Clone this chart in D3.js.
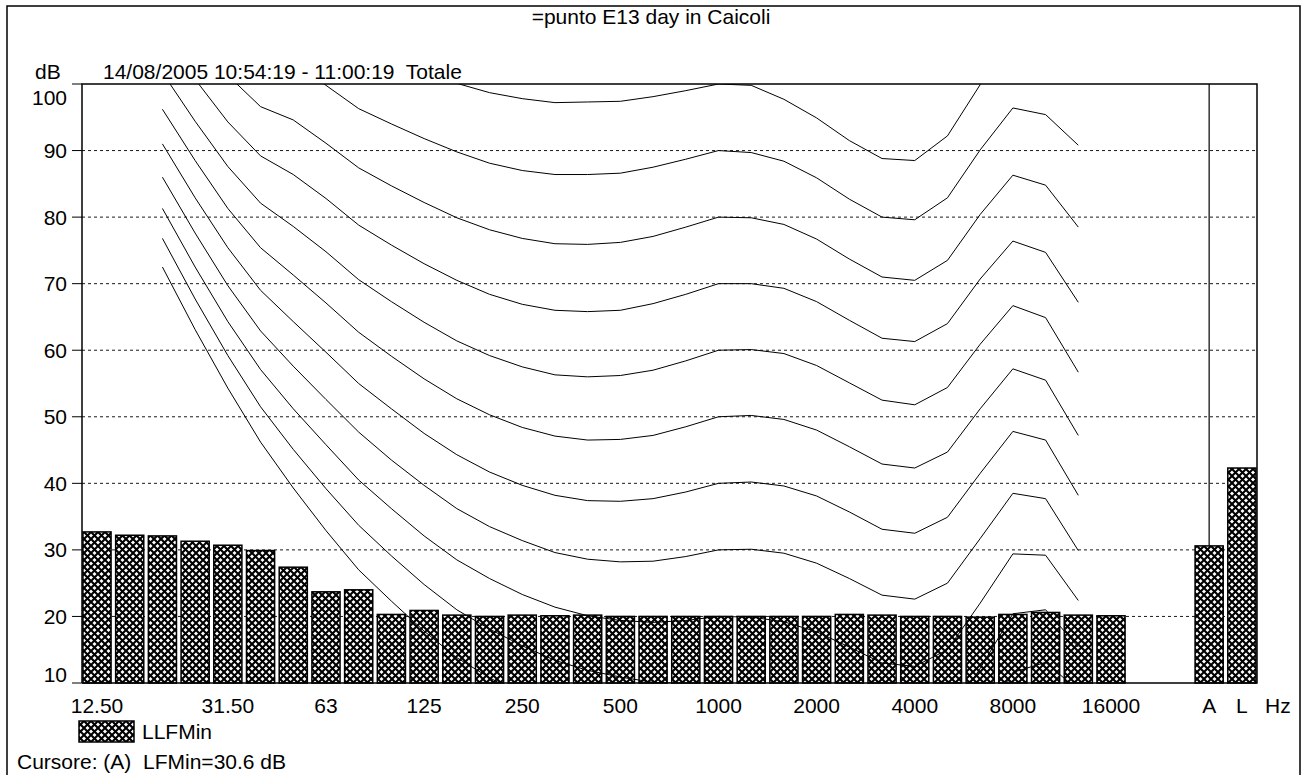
<!DOCTYPE html>
<html>
<head>
<meta charset="utf-8">
<script src="https://cdn.jsdelivr.net/npm/d3@7"></script>
<style>
  body { margin: 0; background: #fff; }
  svg { display: block; font-family: "Liberation Sans", Arial, sans-serif; }
  text { white-space: pre; fill: #000; }
</style>
</head>
<body>
<div id="chart"></div>
<script>
// third-octave bands on the x axis
const bands = ["12.5","16","20","25","31.5","40","50","63","80","100","125","160","200","250","315","400","500","630","800","1000","1250","1600","2000","2500","3150","4000","5000","6300","8000","10000","12500","16000"];
// LLFMin per band (dB)
const llfMin = [32.7,32.2,32.1,31.3,30.7,29.9,27.4,23.7,24.0,20.3,20.9,20.2,20.0,20.2,20.1,20.2,20.0,20.0,20.0,20.0,20.0,20.0,20.0,20.3,20.2,20.0,20.0,19.9,20.3,20.6,20.2,20.1];
// overall values
const totals = ["A","L"];
const totalValues = [30.6, 42.3];
// x tick labels shown under some bands
const xTickBands = ["12.5","31.5","63","125","250","500","1000","2000","4000","8000","16000"];
const xTickText = ["12.50","31.50","63","125","250","500","1000","2000","4000","8000","16000"];
const yTicks = [10,20,30,40,50,60,70,80,90,100];

// isophon curves, 20 Hz .. 12500 Hz
const curveBands = bands.slice(2, 31);
const phon0   = [72.5,63.1,54.3,46.2,39.3,32.9,27.0,22.3,17.8,13.8,10.8,8.1,5.7,3.9,2.5,1.3,0.5,0,-0.7,-1.9,-3.5,-5.7,-8.1,-8.3,-5.4,2.5,11.6,13.1,8.9];
const phon10  = [76.8,67.7,59.2,51.5,45.1,39.2,33.7,29.1,24.8,21.0,18.1,15.6,13.4,11.9,10.9,10.1,9.9,10,9.7,8.7,7.2,5.0,2.6,2.2,4.8,12.2,20.4,21.0,15.4];
const phon20  = [81.3,72.5,64.3,57.1,51.2,45.8,40.5,36.2,32.1,28.5,25.7,23.3,21.4,20.1,19.4,19.1,19.4,20,19.9,19.2,17.7,15.4,13.0,12.5,15.0,22.0,29.4,29.2,22.4];
const phon30  = [86.0,77.6,69.7,62.9,57.6,52.6,47.7,43.5,39.7,36.2,33.5,31.4,29.6,28.6,28.2,28.3,29.0,30,30.1,29.5,28.0,25.7,23.2,22.6,25.0,31.7,38.5,37.7,29.9];
const phon40  = [91.0,82.9,75.4,69.0,64.3,59.7,55.0,51.2,47.5,44.3,41.7,39.7,38.2,37.4,37.3,37.7,38.7,40,40.2,39.6,38.1,35.7,33.1,32.5,34.9,41.5,47.8,46.5,38.2];
const phon50  = [96.2,88.5,81.3,75.4,71.3,67.1,62.7,59.1,55.7,52.7,50.3,48.4,47.1,46.5,46.6,47.2,48.5,50,50.2,49.6,48.0,45.5,42.9,42.3,44.7,51.2,57.2,55.5,47.2];
const phon60  = [101.7,94.4,87.6,82.1,78.6,74.8,70.6,67.3,64.2,61.4,59.2,57.5,56.3,56.0,56.2,57.0,58.4,60,60.1,59.5,57.7,55.1,52.5,51.8,54.4,60.9,66.7,64.9,56.7];
const phon70  = [107.6,100.7,94.3,89.2,86.4,82.8,78.8,75.8,73.0,70.5,68.4,66.9,66.0,65.8,66.0,67.0,68.4,70,70.0,69.3,67.3,64.5,61.8,61.3,64.0,70.7,76.4,74.7,67.2];
const phon80  = [113.7,107.3,101.3,96.6,94.6,91.1,87.4,84.7,82.2,79.9,78.1,76.8,76.0,75.9,76.2,77.1,78.5,80,79.9,78.9,76.7,73.7,71.0,70.5,73.5,80.4,86.3,84.8,78.5];
const phon90  = [120.3,114.4,108.7,104.4,103.2,99.8,96.3,94.0,91.8,89.8,88.1,87.0,86.4,86.4,86.6,87.5,88.7,90,89.7,88.4,85.9,82.7,80.0,79.6,82.9,90.1,96.4,95.4,90.8];
const phon100 = [127.2,121.9,116.6,112.6,112.3,108.9,105.6,103.6,101.8,100.1,98.7,97.8,97.2,97.3,97.4,98.1,99.0,100,99.8,97.7,94.9,91.5,88.8,88.5,92.2,99.9,106.6,106.3,104.7];
const isophons = [phon0, phon10, phon20, phon30, phon40, phon50, phon60, phon70, phon80, phon90, phon100];

const W = 1306, H = 775;
const plot = {left: 82, top: 84, right: 1257, bottom: 683};

const svg = d3.select("#chart").append("svg")
    .attr("width", W)
    .attr("height", H);

svg.append("rect").attr("width", W).attr("height", H).attr("fill", "#fff");

// crosshatch fill for the bars
const defs = svg.append("defs");
const pat = defs.append("pattern")
    .attr("id", "hatch")
    .attr("patternUnits", "userSpaceOnUse")
    .attr("width", 7).attr("height", 7);
pat.append("rect").attr("width", 7).attr("height", 7).attr("fill", "#fff");
pat.append("path")
    .attr("d", "M0,0L7,7M7,0L0,7")
    .attr("stroke", "#000")
    .attr("stroke-width", 2.1);

defs.append("clipPath").attr("id", "plotclip")
  .append("rect")
    .attr("x", plot.left).attr("y", plot.top)
    .attr("width", plot.right - plot.left)
    .attr("height", plot.bottom - plot.top);

// scales
const slots = bands.concat(["gap1", "gap2"], totals);
const x = d3.scaleBand()
    .domain(slots)
    .range([80.65, 80.65 + slots.length * 32.71])
    .paddingInner(0.14)
    .paddingOuter(0.07);
const xc = d => x(d) + x.bandwidth() / 2;

const y = d3.scaleLinear()
    .domain([10, 100])
    .range([plot.bottom, plot.top]);

// outer frame
svg.append("path")
    .attr("d", `M7,${H}V6H1300V${H}`)
    .attr("fill", "none")
    .attr("stroke", "#000")
    .attr("stroke-width", 1.5);

// title
svg.append("text")
    .attr("x", 651).attr("y", 24)
    .attr("text-anchor", "middle")
    .style("font-size", "21px")
    .text("=punto E13 day in Caicoli");

svg.append("text")
    .attr("x", 35).attr("y", 79)
    .style("font-size", "21px")
    .text("dB");

svg.append("text")
    .attr("x", 103).attr("y", 79)
    .style("font-size", "21px")
    .text("14/08/2005 10:54:19 - 11:00:19  Totale");

// dashed gridlines
svg.append("g")
  .selectAll("line")
  .data(yTicks.filter(v => v > 10 && v < 100))
  .join("line")
    .attr("x1", plot.left).attr("x2", plot.right)
    .attr("y1", d => y(d)).attr("y2", d => y(d))
    .attr("stroke", "#000")
    .attr("stroke-width", 0.9)
    .attr("stroke-dasharray", "3,3");

// cursor line on the A bar
svg.append("line")
    .attr("x1", xc("A")).attr("x2", xc("A"))
    .attr("y1", plot.top).attr("y2", plot.bottom)
    .attr("stroke", "#000")
    .attr("stroke-width", 1.2);

// bars
const barData = bands.map((b, i) => ({key: b, v: llfMin[i]}))
    .concat(totals.map((t, i) => ({key: t, v: totalValues[i]})));

svg.append("g")
  .selectAll("rect")
  .data(barData)
  .join("rect")
    .attr("x", d => x(d.key))
    .attr("y", d => y(d.v))
    .attr("width", x.bandwidth())
    .attr("height", d => y(10) - y(d.v))
    .attr("fill", "url(#hatch)")
    .attr("stroke", "#000")
    .attr("stroke-width", 1.5);

// isophon curves
const line = d3.line()
    .x((d, i) => xc(curveBands[i]))
    .y(d => y(d));

svg.append("g")
    .attr("clip-path", "url(#plotclip)")
  .selectAll("path")
  .data(isophons)
  .join("path")
    .attr("d", line)
    .attr("fill", "none")
    .attr("stroke", "#000")
    .attr("stroke-width", 1);

// axis frame lines
svg.append("path")
    .attr("d", `M${plot.left},${plot.bottom}V${plot.top}H${plot.right}V${plot.bottom}H${plot.left}`)
    .attr("fill", "none")
    .attr("stroke", "#000")
    .attr("stroke-width", 1.5);

// y ticks and labels
const yAxis = svg.append("g");
yAxis.selectAll("line")
  .data(yTicks)
  .join("line")
    .attr("x1", plot.left - 10).attr("x2", plot.left)
    .attr("y1", d => y(d)).attr("y2", d => y(d))
    .attr("stroke", "#000");
yAxis.selectAll("text")
  .data(yTicks)
  .join("text")
    .attr("x", 67)
    .attr("y", d => d === 100 ? y(d) + 21 : d === 10 ? y(d) - 1 : y(d) + 7.5)
    .attr("text-anchor", "end")
    .style("font-size", "21px")
    .text(d => d);

// x labels
const xLabels = xTickBands.map((b, i) => ({x: xc(b), t: xTickText[i]}))
    .concat(totals.map(t => ({x: xc(t), t: t})))
    .concat([{x: xc("L") + 36, t: "Hz"}]);

svg.append("g")
  .selectAll("text")
  .data(xLabels)
  .join("text")
    .attr("x", d => d.x)
    .attr("y", 713)
    .attr("text-anchor", "middle")
    .style("font-size", "21px")
    .text(d => d.t);

// legend
svg.append("rect")
    .attr("x", 79).attr("y", 721)
    .attr("width", 55).attr("height", 21)
    .attr("fill", "url(#hatch)")
    .attr("stroke", "#000")
    .attr("stroke-width", 1.5);
svg.append("text")
    .attr("x", 142).attr("y", 739)
    .style("font-size", "21px")
    .text("LLFMin");

svg.append("text")
    .attr("x", 17).attr("y", 769)
    .style("font-size", "21px")
    .text("Cursore: (A)  LFMin=30.6 dB");
</script>
</body>
</html>
